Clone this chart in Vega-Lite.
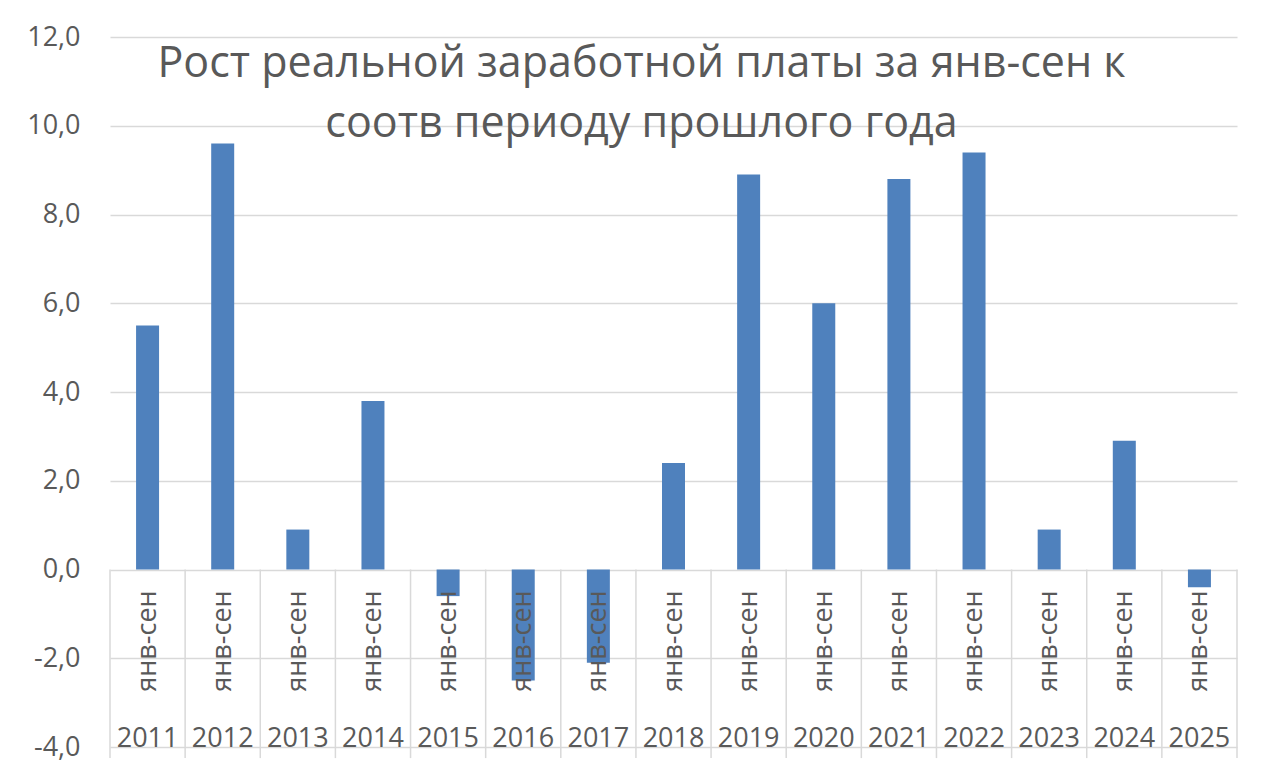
{
  "$schema": "https://vega.github.io/schema/vega-lite/v6.json",
  "width": 1127,
  "height": 710,
  "autosize": "none",
  "padding": {"left": 110, "top": 37, "right": 43, "bottom": 21},
  "background": "white",
  "config": {"view": {"stroke": null}, "font": "Open Sans"},
  "title": {
    "text": ["Рост реальной заработной платы за янв-сен к", "соотв периоду прошлого года"],
    "fontSize": 43,
    "fontWeight": "normal",
    "color": "#595959",
    "font": "Open Sans",
    "anchor": "middle",
    "offset": -123,
    "dx": -32,
    "lineHeight": 60
  },
  "data": {
    "values": [
      {"year": "2011", "period": "янв-сен", "value": 5.5},
      {"year": "2012", "period": "янв-сен", "value": 9.6},
      {"year": "2013", "period": "янв-сен", "value": 0.9},
      {"year": "2014", "period": "янв-сен", "value": 3.8},
      {"year": "2015", "period": "янв-сен", "value": -0.6},
      {"year": "2016", "period": "янв-сен", "value": -2.5},
      {"year": "2017", "period": "янв-сен", "value": -2.1},
      {"year": "2018", "period": "янв-сен", "value": 2.4},
      {"year": "2019", "period": "янв-сен", "value": 8.9},
      {"year": "2020", "period": "янв-сен", "value": 6.0},
      {"year": "2021", "period": "янв-сен", "value": 8.8},
      {"year": "2022", "period": "янв-сен", "value": 9.4},
      {"year": "2023", "period": "янв-сен", "value": 0.9},
      {"year": "2024", "period": "янв-сен", "value": 2.9},
      {"year": "2025", "period": "янв-сен", "value": -0.4}
    ]
  },
  "layer": [
    {
      "mark": {"type": "bar", "size": 23, "color": "#4f81bd"},
      "encoding": {
        "x": {"field": "year", "type": "nominal", "scale": {"paddingInner": 0, "paddingOuter": 0}, "axis": null},
        "y": {
          "field": "value",
          "type": "quantitative",
          "scale": {"domain": [-4, 12], "nice": false, "zero": false},
          "axis": {
            "values": [-4, -2, 0, 2, 4, 6, 8, 10, 12],
            "grid": true,
            "gridColor": "#d9d9d9",
            "gridWidth": 1.5,
            "domain": false,
            "ticks": false,
            "labelFontSize": 27,
            "labelColor": "#595959",
            "labelFont": "Open Sans",
            "labelPadding": 30,
            "labelExpr": "(datum.value < 0 ? '-' : '') + replace(format(abs(datum.value), '.1f'), '.', ',')",
            "title": null
          }
        }
      }
    },
    {
      "mark": {"type": "rule", "color": "#d9d9d9", "strokeWidth": 1.5},
      "encoding": {
        "x": {"field": "year", "type": "nominal", "bandPosition": 0},
        "y": {"datum": 0},
        "y2": {"datum": -4.25}
      }
    },
    {
      "transform": [{"filter": "datum.year == '2025'"}],
      "mark": {"type": "rule", "color": "#d9d9d9", "strokeWidth": 1.5},
      "encoding": {
        "x": {"field": "year", "type": "nominal", "bandPosition": 1},
        "y": {"datum": 0},
        "y2": {"datum": -4.25}
      }
    },
    {
      "mark": {"type": "text", "angle": 270, "align": "right", "baseline": "middle", "fontSize": 27, "color": "#595959", "font": "Open Sans"},
      "encoding": {
        "x": {"field": "year", "type": "nominal"},
        "y": {"datum": -0.47},
        "text": {"field": "period"}
      }
    },
    {
      "mark": {"type": "text", "align": "center", "baseline": "alphabetic", "fontSize": 27, "color": "#595959", "font": "Open Sans"},
      "encoding": {
        "x": {"field": "year", "type": "nominal"},
        "y": {"datum": -4},
        "text": {"field": "year"}
      }
    }
  ]
}
